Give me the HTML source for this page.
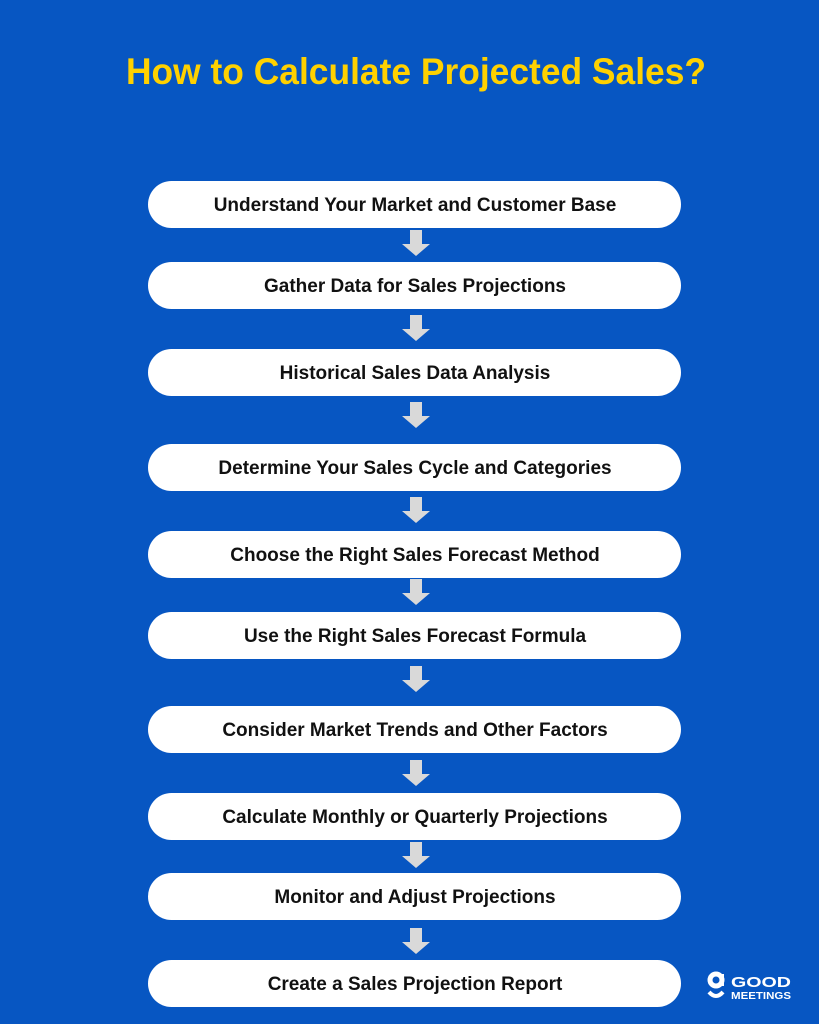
<!DOCTYPE html>
<html><head><meta charset="utf-8"><style>
html,body{margin:0;padding:0;background:#0756c2;}
svg{display:block}
</style></head><body>
<svg width="819" height="1024" viewBox="0 0 819 1024" xmlns="http://www.w3.org/2000/svg">
<rect width="819" height="1024" fill="#0756c2"/>
<text x="416" y="84" text-anchor="middle" font-family="Liberation Sans, sans-serif" font-weight="bold" font-size="37" fill="#ffd100" textLength="580" lengthAdjust="spacingAndGlyphs">How to Calculate Projected Sales?</text>
<g font-family="Liberation Sans, sans-serif" font-weight="bold" font-size="19" fill="#111" text-anchor="middle">
<rect x="148" y="181" width="533" height="47" rx="23.5" fill="#fff"/><text x="415" y="211">Understand Your Market and Customer Base</text>
<rect x="148" y="262" width="533" height="47" rx="23.5" fill="#fff"/><text x="415" y="292">Gather Data for Sales Projections</text>
<rect x="148" y="349" width="533" height="47" rx="23.5" fill="#fff"/><text x="415" y="379">Historical Sales Data Analysis</text>
<rect x="148" y="444" width="533" height="47" rx="23.5" fill="#fff"/><text x="415" y="474">Determine Your Sales Cycle and Categories</text>
<rect x="148" y="531" width="533" height="47" rx="23.5" fill="#fff"/><text x="415" y="561">Choose the Right Sales Forecast Method</text>
<rect x="148" y="612" width="533" height="47" rx="23.5" fill="#fff"/><text x="415" y="642">Use the Right Sales Forecast Formula</text>
<rect x="148" y="706" width="533" height="47" rx="23.5" fill="#fff"/><text x="415" y="736">Consider Market Trends and Other Factors</text>
<rect x="148" y="793" width="533" height="47" rx="23.5" fill="#fff"/><text x="415" y="823">Calculate Monthly or Quarterly Projections</text>
<rect x="148" y="873" width="533" height="47" rx="23.5" fill="#fff"/><text x="415" y="903">Monitor and Adjust Projections</text>
<rect x="148" y="960" width="533" height="47" rx="23.5" fill="#fff"/><text x="415" y="990">Create a Sales Projection Report</text>
</g>
<g fill="#d9d9d9">
<path d="M410 230h12v14h8l-14 12l-14-12h8z"/>
<path d="M410 315h12v14h8l-14 12l-14-12h8z"/>
<path d="M410 402h12v14h8l-14 12l-14-12h8z"/>
<path d="M410 497h12v14h8l-14 12l-14-12h8z"/>
<path d="M410 579h12v14h8l-14 12l-14-12h8z"/>
<path d="M410 666h12v14h8l-14 12l-14-12h8z"/>
<path d="M410 760h12v14h8l-14 12l-14-12h8z"/>
<path d="M410 842h12v14h8l-14 12l-14-12h8z"/>
<path d="M410 928h12v14h8l-14 12l-14-12h8z"/>
</g>
<g fill="#fff">
<circle cx="716" cy="980" r="6" fill="none" stroke="#fff" stroke-width="5"/>
<path d="M722 974 v12" stroke="#fff" stroke-width="4"/>
<path d="M709 992 q7 8 14 0" fill="none" stroke="#fff" stroke-width="4"/>
<text x="731" y="987" font-family="Liberation Sans, sans-serif" font-weight="bold" font-size="15" textLength="60" lengthAdjust="spacingAndGlyphs">GOOD</text>
<text x="731" y="999" font-family="Liberation Sans, sans-serif" font-weight="bold" font-size="10" textLength="60" lengthAdjust="spacingAndGlyphs">MEETINGS</text>
</g>
</svg>
</body></html>
